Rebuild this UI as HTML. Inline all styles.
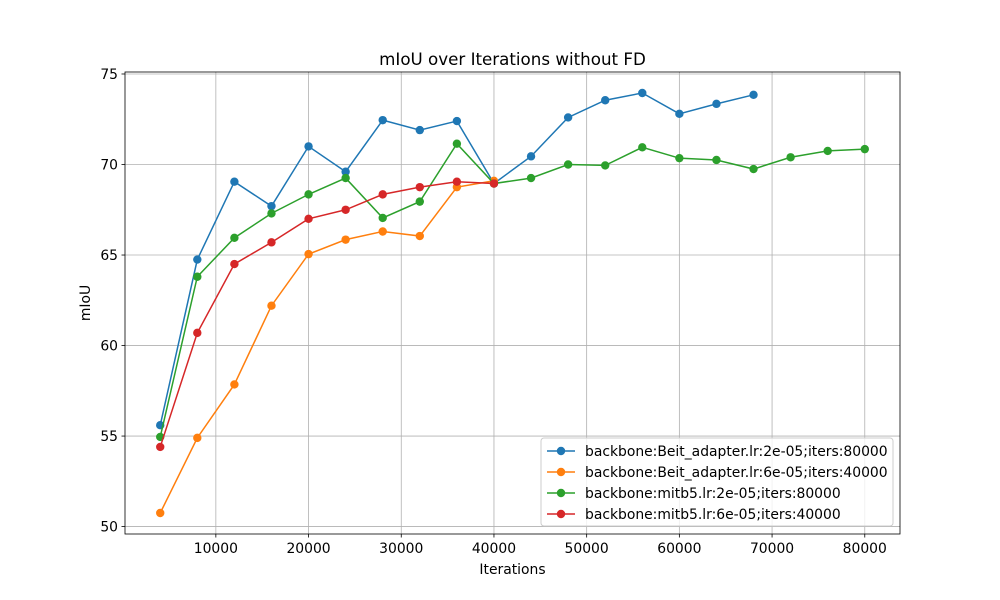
<!DOCTYPE html>
<html><head><meta charset="utf-8">
<style>
html,body{margin:0;padding:0;background:#fff;}
svg{display:block;font-family:"DejaVu Sans","Liberation Sans",sans-serif;}
</style></head>
<body>
<svg id="chart" width="1000" height="600" viewBox="0 0 1000 600"></svg>
<script>
const itersBlue=[4000,8000,12000,16000,20000,24000,28000,32000,36000,40000,44000,48000,52000,56000,60000,64000,68000];
const blueVals=[55.6,64.75,69.05,67.7,71.0,69.6,72.45,71.9,72.4,68.95,70.45,72.6,73.55,73.95,72.8,73.35,73.85];
const itersShort=[4000,8000,12000,16000,20000,24000,28000,32000,36000,40000];
const orangeVals=[50.75,54.9,57.85,62.2,65.05,65.85,66.3,66.05,68.75,69.1];
const itersGreen=[4000,8000,12000,16000,20000,24000,28000,32000,36000,40000,44000,48000,52000,56000,60000,64000,68000,72000,76000,80000];
const greenVals=[54.95,63.8,65.95,67.3,68.35,69.25,67.05,67.95,71.15,68.95,69.25,70.0,69.95,70.95,70.35,70.25,69.75,70.4,70.75,70.85];
const redVals=[54.4,60.7,64.5,65.7,67.0,67.5,68.35,68.75,69.05,68.95];
const xTicks=[10000,20000,30000,40000,50000,60000,70000,80000];
const yTicks=[50,55,60,65,70,75];
const seriesNames=["backbone:Beit_adapter.lr:2e-05;iters:80000","backbone:Beit_adapter.lr:6e-05;iters:40000","backbone:mitb5.lr:2e-05;iters:80000","backbone:mitb5.lr:6e-05;iters:40000"];

const L=125,R=900,T=72,B=534;
const xMin=200,xMax=83800,yMin=49.59,yMax=75.11;
const sx=v=>L+(v-xMin)/(xMax-xMin)*(R-L);
const sy=v=>B-(v-yMin)/(yMax-yMin)*(B-T);
const svg=document.getElementById('chart');
const NS="http://www.w3.org/2000/svg";
function mk(tag,attrs,parent){const e=document.createElementNS(NS,tag);for(const k in attrs)e.setAttribute(k,attrs[k]);(parent||svg).appendChild(e);return e;}

const grid=mk('g',{});


xTicks.forEach(t=>{mk('line',{x1:sx(t),x2:sx(t),y1:T,y2:B,stroke:'#b0b0b0','stroke-width':0.8},grid);});
yTicks.forEach(t=>{mk('line',{x1:L,x2:R,y1:sy(t),y2:sy(t),stroke:'#b0b0b0','stroke-width':0.8},grid);});

const xax=mk('g',{});


xTicks.forEach(t=>{
  mk('line',{x1:sx(t),x2:sx(t),y1:B,y2:B+3.5,stroke:'#000','stroke-width':0.8},xax);
  const tx=mk('text',{x:sx(t),y:B+19,'text-anchor':'middle','font-size':13.9,fill:'#000'},xax);tx.textContent=t;
});
const yax=mk('g',{});


yTicks.forEach(t=>{
  mk('line',{x1:L-3.5,x2:L,y1:sy(t),y2:sy(t),stroke:'#000','stroke-width':0.8},yax);
  const tx=mk('text',{x:L-7,y:sy(t)+5,'text-anchor':'end','font-size':13.9,fill:'#000'},yax);tx.textContent=t;
});

const colors=['#1f77b4','#ff7f0e','#2ca02c','#d62728'];
const series=[[itersBlue,blueVals],[itersShort,orangeVals],[itersGreen,greenVals],[itersShort,redVals]];
const sNames=['series-beit-2e-05','series-beit-6e-05','series-mitb5-2e-05','series-mitb5-6e-05'];
series.forEach((s,i)=>{
  const g=mk('g',{});
  
  
  const pts=s[0].map((x,j)=>sx(x)+','+sy(s[1][j])).join(' ');
  mk('polyline',{points:pts,fill:'none',stroke:colors[i],'stroke-width':1.5},g);
  s[0].forEach((x,j)=>{
    const c=mk('circle',{cx:sx(x),cy:sy(s[1][j]),r:4.2,fill:colors[i]},g);
    
    
  });
});

const frame=mk('rect',{x:L,y:T,width:R-L,height:B-T,fill:'none',stroke:'#000','stroke-width':0.8});



const title=mk('text',{x:(L+R)/2,y:65,'text-anchor':'middle','font-size':16.7,fill:'#000'});
title.textContent='mIoU over Iterations without FD';


const xl=mk('text',{x:(L+R)/2,y:574,'text-anchor':'middle','font-size':13.9,fill:'#000'});
xl.textContent='Iterations';


const yl=mk('text',{x:0,y:0,'text-anchor':'middle','font-size':13.9,fill:'#000',transform:'translate(90,303) rotate(-90)'});
yl.textContent='mIoU';



const lg=mk('g',{});


mk('rect',{x:541,y:438,width:352,height:88,rx:3,fill:'#fff','fill-opacity':0.8,stroke:'#ccc','stroke-width':1},lg);
seriesNames.forEach((n,i)=>{
  const y=451+i*21;
  const e=mk('g',{},lg);
  
  
  mk('line',{x1:547,x2:575,y1:y,y2:y,stroke:colors[i],'stroke-width':1.5},e);
  mk('circle',{cx:561,cy:y,r:4.2,fill:colors[i]},e);
  const t=mk('text',{x:585,y:y+5,'font-size':13.9,fill:'#000'},e);t.textContent=n;
});
</script>
</body></html>
